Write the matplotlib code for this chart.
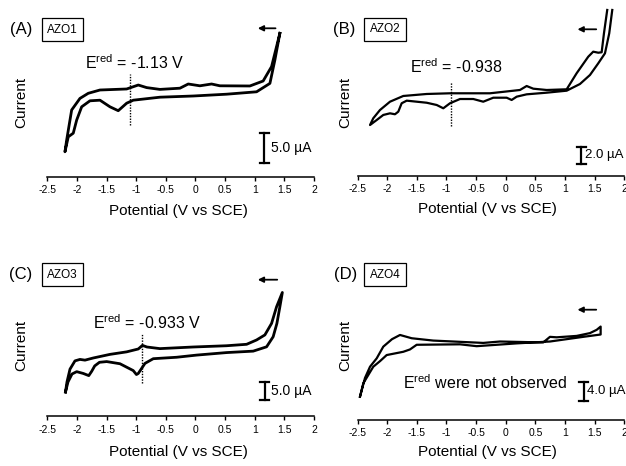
import matplotlib
matplotlib.use("Agg")
import matplotlib.pyplot as plt
import numpy as np

plt.rcParams['font.family'] = ['Liberation Sans', 'DejaVu Sans']
plt.rcParams['mathtext.fontset'] = 'custom'
plt.rcParams['mathtext.rm'] = 'Liberation Sans'
plt.rcParams['mathtext.it'] = 'Liberation Sans:italic'
plt.rcParams['axes.unicode_minus'] = False

# ---------------- data (V vs SCE, current in uA, arbitrary offset) ----------------
tick_vals = [-2.5, -2, -1.5, -1, -0.5, 0, 0.5, 1, 1.5, 2]
tick_labels = ['-2.5', '-2', '-1.5', '-1', '-0.5', '0', '0.5', '1', '1.5', '2']

# AZO1
A_V_lower = [1.424, 1.34, 1.256, 1.031, 0.525, -0.038, -0.6, -1.05, -1.161, -1.303, -1.443,
             -1.611, -1.78, -1.92, -2.004, -2.062, -2.146, -2.202]
A_I_lower = [23.95, 19.5, 15.6, 14.2, 13.8, 13.5, 13.3, 12.8, 12.3, 11.05, 11.7,
             12.8, 12.7, 11.7, 9.5, 7.3, 6.7, 4.2]
A_V_upper = [-2.202, -2.173, -2.089, -1.949, -1.809, -1.611, -1.161, -0.965, -0.824, -0.6,
             -0.262, -0.122, 0.075, 0.272, 0.412, 0.918, 1.142, 1.284, 1.424]
A_I_upper = [4.2, 6.17, 11.17, 13.1, 13.95, 14.5, 14.67, 15.33, 14.9, 14.6,
             14.8, 15.5, 15.2, 15.5, 15.2, 15.17, 16.0, 18.4, 23.95]

# AZO2
B_V_lower = [1.797, 1.746, 1.674, 1.561, 1.421, 1.252, 1.028, 0.691, 0.353, 0.185, 0.100,
             0.016, -0.21, -0.379, -0.547, -0.771, -0.94, -1.053, -1.164, -1.333, -1.67,
             -1.755, -1.812, -1.868, -1.952, -2.065, -2.176, -2.289]
B_I_lower = [19.15, 16.46, 14.15, 13.0, 11.65, 10.61, 9.84, 9.61, 9.42, 9.15, 8.77,
             9.03, 9.03, 8.57, 8.88, 8.88, 8.39, 7.81, 8.19, 8.45, 8.69,
             8.39, 7.42, 7.12, 7.23, 7.04, 6.46, 5.88]
B_V_upper = [-2.289, -2.234, -2.121, -1.952, -1.728, -1.333, -0.94, -0.266, 0.24, 0.353,
             0.465, 0.691, 1.028, 1.196, 1.392, 1.476, 1.561, 1.618, 1.657, 1.712]
B_I_upper = [5.88, 6.66, 7.61, 8.57, 9.23, 9.46, 9.54, 9.54, 9.92, 10.38,
             10.07, 9.92, 10.0, 11.85, 13.76, 14.34, 14.22, 14.27, 16.46, 19.15]

# AZO3
C_V_upper = [-2.193, -2.168, -2.117, -2.033, -1.949, -1.864, -1.724, -1.443, -1.161, -0.965,
             -0.895, -0.819, -0.6, -0.038, 0.525, 0.863, 1.031, 1.171, 1.284, 1.368, 1.466]
C_I_upper = [6.75, 9.53, 13.1, 15.4, 15.8, 15.6, 16.2, 17.2, 17.9, 18.7,
             19.7, 19.25, 18.8, 19.25, 19.6, 20.0, 21.2, 22.6, 25.8, 30.4, 34.4]
C_V_lower = [1.466, 1.424, 1.374, 1.311, 1.2, 0.974, 0.525, 0.019, -0.318, -0.712, -0.852,
             -0.965, -0.996, -1.05, -1.274, -1.498, -1.62, -1.70, -1.751, -1.8, -1.893, -2.004,
             -2.083, -2.151, -2.193]
C_I_lower = [34.4, 30.4, 25.8, 22.1, 19.3, 18.1, 17.7, 17.0, 16.4, 16.0, 14.7,
             11.9, 11.6, 12.7, 14.6, 15.2, 15.0, 14.0, 12.5, 11.3, 11.9, 12.4,
             11.75, 9.53, 6.75]

# AZO4
D_V_upper = [-2.458, -2.374, -2.289, -2.176, -2.065, -1.918, -1.783, -1.586, -1.222, -0.379,
             -0.097, 0.633, 0.746, 0.859, 1.196, 1.421, 1.534, 1.601]
D_I_upper = [4.88, 8.89, 11.3, 13.1, 15.6, 17.2, 18.1, 17.4, 16.9, 16.4,
             16.7, 16.5, 17.7, 17.6, 17.9, 18.5, 19.2, 19.9]
D_V_lower = [1.601, 1.308, 0.746, 0.185, -0.49, -0.771, -1.502, -1.615, -1.728, -2.008,
             -2.12, -2.234, -2.402, -2.458]
D_I_lower = [18.2, 17.7, 16.7, 16.3, 15.7, 16.1, 16.0, 15.0, 14.5, 13.8,
             12.5, 11.3, 7.75, 4.88]

panel_letters = ['(A)', '(B)', '(C)', '(D)']
compound_names = ['AZO1', 'AZO2', 'AZO3', 'AZO4']
ered_texts = [r'$\mathrm{E^{red}}$ = -1.13 V', r'$\mathrm{E^{red}}$ = -0.938',
              r'$\mathrm{E^{red}}$ = -0.933 V', r'$\mathrm{E^{red}}$ were not observed']
ered_line_V = [-1.11, -0.928, -0.908, None]
scale_labels = ['5.0 µA', '2.0 µA', '5.0 µA', '4.0 µA']
scale_sizes = [5.0, 2.0, 5.0, 4.0]

# ---------------- layout (pixel geometry of the reference) ----------------
W, H = 626, 466
fig = plt.figure(figsize=(W / 100, H / 100), dpi=100)

def fx(px):
    return px / W

def fy(py):
    return 1 - py / H

# left px, right px, bottom px, top px, px per uA
geom = [
    (47.3, 314.0, 177.0, 10.0, 6.0),
    (357.5, 624.3, 176.0, 5.0, 8.67),
    (47.3, 314.0, 416.3, 250.0, 3.6),
    (357.5, 624.3, 419.5, 250.0, 4.67),
]
curves = [
    (A_V_lower + A_V_upper, A_I_lower + A_I_upper, 2.0),
    (B_V_lower + B_V_upper, B_I_lower + B_I_upper, 1.6),
    (C_V_upper + C_V_lower, C_I_upper + C_I_lower, 2.0),
    (D_V_upper + D_V_lower, D_I_upper + D_I_lower, 1.6),
]
# dotted line extents (uA), scale bar position (V, bottom uA)
dot_ext = [(8.67, 17.17), (5.77, 10.88), (9.25, 23.1), None]
bar_pos = [(1.16, 2.4), (1.274, 1.38), (1.171, 4.6), (1.314, 4.03)]
bar_text_gap = [6.5, 3.5, 6.5, 3.5]
bar_text_size = [10, 9.5, 10, 9.5]

# text positions in px
letter_pos = [(21, 29.5), (344, 29.5), (21, 274.5), (346, 274.5)]
box_pos = [(62.5, 29.7), (385, 29.3), (62.5, 274.7), (385, 274.7)]
ered_pos = [(85, 63), (409.7, 67), (93.3, 322.3), (403, 382.3)]
current_pos = [(21, 102), (345.5, 102), (21, 345), (345.5, 345)]
xlabel_pos = [(178.3, 211), (487.3, 209), (178.3, 452), (487.3, 452)]
arrow_pos = [((278.3, 28.3), (255, 28.3)), ((599, 29.3), (574.7, 29.3)),
             ((280, 279.7), (255, 279.7)), ((599, 309.7), (574.7, 309.7))]

for i in range(4):
    l, r, b, t, s = geom[i]
    ax = fig.add_axes([fx(l), fy(b), (r - l) / W, (b - t) / H])
    ax.set_xlim(-2.5, 2)
    ax.set_ylim(0, (b - t) / s)
    for sp in ['top', 'right', 'left']:
        ax.spines[sp].set_visible(False)
    ax.spines['bottom'].set_linewidth(1.1)
    ax.set_yticks([])
    ax.set_xticks(tick_vals)
    ax.set_xticklabels(tick_labels, fontsize=7.5)
    ax.tick_params(axis='x', direction='out', length=3, width=1, pad=3)
    ax.patch.set_visible(False)

    V, I, lw = curves[i]
    ax.plot(V, I, color='black', lw=lw, solid_joinstyle='round', clip_on=False)

    if dot_ext[i] is not None:
        ax.plot([ered_line_V[i]] * 2, dot_ext[i], color='black', lw=1.0,
                linestyle=(0, (1, 1)))

    bx, by = bar_pos[i]
    sz = scale_sizes[i]
    ax.plot([bx, bx], [by, by + sz], color='black', lw=1.6, clip_on=False)
    for yy in (by, by + sz):
        ax.plot([bx - 0.075, bx + 0.075], [yy, yy], color='black', lw=1.6, clip_on=False)
    px_bar = l + (bx + 2.5) * (r - l) / 4.5
    py_bar = b - (by + sz / 2) * s
    fig.text(fx(px_bar + bar_text_gap[i]), fy(py_bar), scale_labels[i],
             fontsize=bar_text_size[i], ha='left', va='center')

    fig.text(fx(letter_pos[i][0]), fy(letter_pos[i][1]), panel_letters[i],
             fontsize=12, ha='center', va='center')
    fig.text(fx(box_pos[i][0]), fy(box_pos[i][1]), compound_names[i], fontsize=8.5,
             ha='center', va='center',
             bbox=dict(boxstyle='square,pad=0.45', fc='white', ec='black', lw=0.9))
    fig.text(fx(ered_pos[i][0]), fy(ered_pos[i][1]), ered_texts[i], fontsize=11.5,
             ha='left', va='center')
    fig.text(fx(current_pos[i][0]), fy(current_pos[i][1]), 'Current', fontsize=11,
             rotation=90, ha='center', va='center')
    fig.text(fx(xlabel_pos[i][0]), fy(xlabel_pos[i][1]), 'Potential (V vs SCE)',
             fontsize=11, ha='center', va='center')
    (tx, ty), (hx, hy) = arrow_pos[i]
    fig.add_artist(matplotlib.patches.FancyArrowPatch(
        (fx(tx), fy(ty)), (fx(hx), fy(hy)), transform=fig.transFigure,
        arrowstyle='-|>', mutation_scale=8, lw=1.3, color='black'))

fig.savefig('out.png', dpi=100)
